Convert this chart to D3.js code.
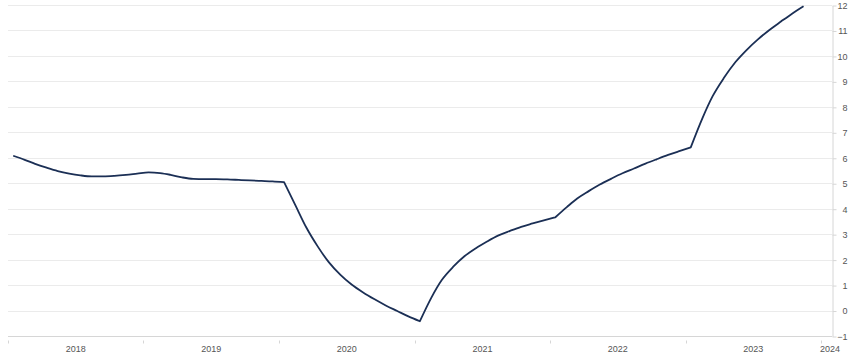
<!DOCTYPE html>
<html>
<head>
<meta charset="utf-8">
<script src="https://cdn.jsdelivr.net/npm/d3@7"></script>
<style>
  body { margin: 0; background: #fff; }
  svg { display: block; font-family: "Liberation Sans", Arial, sans-serif; }
  .grid line { stroke: #ebebeb; stroke-width: 1; }
  .axis text { fill: #555; font-size: 9px; }
  .axis path, .axis line { stroke: #d6d6d6; }
</style>
</head>
<body>
<svg id="chart" width="853" height="353"></svg>
<script>
// monthly values, Jan 2018 .. Nov 2023
var startYear = 2018;
var values = [
    // 2018
    6.08, 5.92, 5.76, 5.61, 5.48, 5.38, 5.31, 5.27, 5.27, 5.29, 5.33, 5.38,
    // 2019
    5.43, 5.40, 5.33, 5.23, 5.17, 5.16, 5.16, 5.15, 5.13, 5.11, 5.09, 5.07,
    // 2020
    5.04, 4.12, 3.26, 2.51, 1.89, 1.40, 1.02, 0.71, 0.44, 0.20, -0.02, -0.23,
    // 2021
    -0.42, 0.51, 1.20, 1.72, 2.13, 2.45, 2.71, 2.95, 3.13, 3.29, 3.42, 3.54,
    // 2022
    3.66, 4.06, 4.40, 4.69, 4.95, 5.18, 5.39, 5.58, 5.77, 5.94, 6.11, 6.26,
    // 2023
    6.41, 7.54, 8.42, 9.15, 9.75, 10.24, 10.65, 11.02, 11.35, 11.66, 11.95
];
// months where the line turns sharply (Jan 2020 .. Jan 2023)
var breakMonths = [24, 36, 48, 60];
var yTicks = [-1, 0, 1, 2, 3, 4, 5, 6, 7, 8, 9, 10, 11, 12];
var yearLabels = ["2018", "2019", "2020", "2021", "2022", "2023", "2024"];

var data = values.map(function(v, i) {
    return { date: new Date(startYear, i, 15), value: v };
});

var svg = d3.select("#chart");
var plotLeft = 8, plotRight = 832, plotTop = 5, plotBottom = 336;

var x = d3.scaleTime()
    .domain([new Date(2018, 0, 1), new Date(2024, 0, 1)])
    .range([plotLeft, 821]);
var y = d3.scaleLinear().domain([-1, 12]).range([plotBottom, plotTop]);

// horizontal grid
svg.append("g").attr("class", "grid")
    .selectAll("line").data(yTicks).enter().append("line")
    .attr("x1", plotLeft).attr("x2", plotRight)
    .attr("y1", function(d) { return Math.round(y(d)) + 0.5; })
    .attr("y2", function(d) { return Math.round(y(d)) + 0.5; });

// right axis
var yAxis = svg.append("g").attr("class", "axis")
    .attr("transform", "translate(" + (plotRight + 0.5) + ",0.5)")
    .call(d3.axisRight(y).tickValues(yTicks).tickSize(4).tickPadding(2).tickSizeOuter(0));
yAxis.selectAll("text").attr("text-anchor", "end").attr("x", 15);

// bottom axis
var yearTicks = yearLabels.map(function(s) { return new Date(+s, 0, 1); });
var xAxis = svg.append("g").attr("class", "axis")
    .attr("transform", "translate(0," + (Math.round(y(-1)) + 0.5) + ")");
xAxis.append("line").attr("x1", plotLeft).attr("x2", plotRight).attr("y1", 0).attr("y2", 0);
xAxis.selectAll("line.tick").data(yearTicks).enter().append("line")
    .attr("class", "tick")
    .attr("x1", function(d) { return Math.round(x(d)) + 0.5; })
    .attr("x2", function(d) { return Math.round(x(d)) + 0.5; })
    .attr("y1", 4).attr("y2", 7);
xAxis.selectAll("text").data(yearLabels).enter().append("text")
    .attr("text-anchor", "middle")
    .attr("y", 15)
    .attr("x", function(d) {
        var yr = +d;
        if (yr == 2024) return x(new Date(2024, 0, 1)) + 9;
        return (x(new Date(yr, 0, 1)) + x(new Date(yr + 1, 0, 1))) / 2;
    })
    .text(function(d) { return d; });

// the line: smooth pieces, sharp corner at each break month
var cuts = [0].concat(breakMonths, [data.length - 1]);
var segments = [];
for (var s = 0; s < cuts.length - 1; s++) {
    segments.push(data.slice(cuts[s], cuts[s + 1] + 1));
}
var line = d3.line()
    .curve(d3.curveMonotoneX)
    .x(function(d) { return x(d.date); })
    .y(function(d) { return y(d.value); });

svg.append("path")
    .attr("fill", "none")
    .attr("stroke", "#1b2f55")
    .attr("stroke-width", 1.8)
    .attr("stroke-linejoin", "round")
    .attr("d", segments.map(function(seg, k) {
        var p = line(seg);
        return k > 0 ? "L" + p.slice(1) : p;
    }).join(""));
</script>
</body>
</html>
